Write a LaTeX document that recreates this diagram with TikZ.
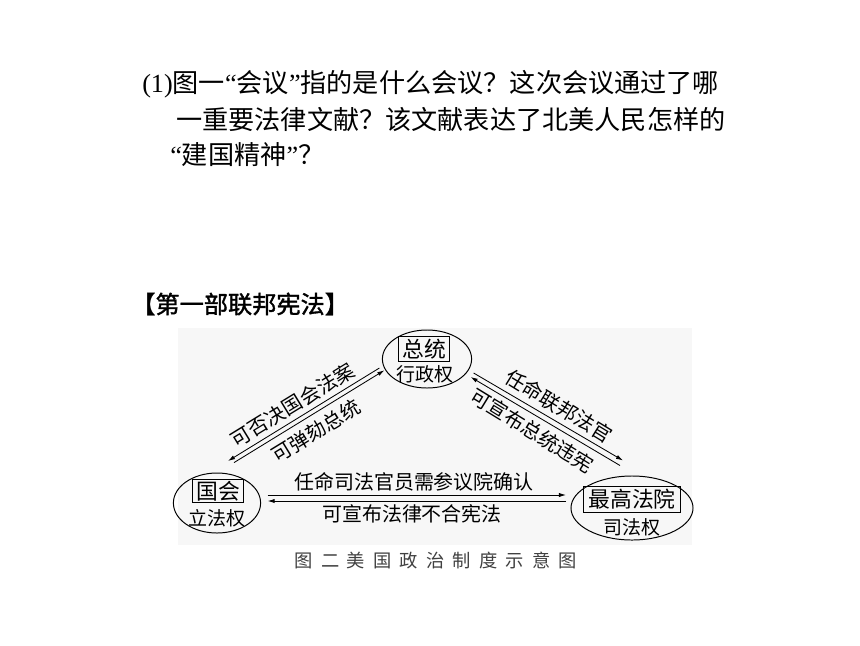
\documentclass[tikz,border=0pt]{standalone}
\usepackage{fontspec}
\setmainfont{Noto Sans CJK SC}
\newfontfamily\latinfont{Liberation Serif}
\newfontfamily\headfont[FakeBold=1.5]{Noto Sans CJK SC}
\newfontfamily\capfont[LetterSpace=45]{Noto Sans CJK SC}
\usetikzlibrary{shapes.geometric,arrows.meta}
\newcommand\qopen{{\latinfont “}}
\newcommand\qclose{{\latinfont ”}}
\tikzset{qline/.style={anchor=west,inner sep=0pt,font=\fontsize{18.6}{20}\selectfont}}
\tikzset{power/.style={draw,ellipse,line width=0.7pt,inner sep=0pt}}
\tikzset{office/.style={draw,rectangle,line width=0.7pt,inner sep=0pt,font=\fontsize{15.5}{16}\selectfont}}
\tikzset{duty/.style={inner sep=0pt,font=\fontsize{13.5}{14}\selectfont}}
\tikzset{lbl/.style={inner sep=0pt,font=\fontsize{14.2}{15}\selectfont}}
\tikzset{chk/.style={line width=0.6pt,-{Latex[length=5pt,width=3pt]}}}

\begin{document}
\begin{tikzpicture}[x=0.025cm,y=-0.025cm]
    \fill[white] (0,0) rectangle (860,645);
    \useasboundingbox (0,0) rectangle (860,645);
    \fill[black!3] (178,328) rectangle (692,545);

    % question
    \node[qline] (q1) at (142,84) {{\latinfont(1)}图一\qopen 会议\qclose 指的是什么会议？这次会议通过了哪};
    \node[qline] (q2) at (176,120) {一重要法律文献？该文献表达了北美人民怎样的};
    \node[qline] (q3) at (170,155) {\qopen 建国精神\qclose？};

    \node[anchor=west,inner sep=0pt,font=\headfont\fontsize{17.2}{18}\selectfont] (head) at (131,304) {【第一部联邦宪法】};

    % three powers
    \node[power,minimum width=2.23cm,minimum height=1.45cm] (pres) at (427,359) {};
    \node[office,minimum width=1.275cm,minimum height=0.625cm] (presbox) at (424,349) {总统};
    \node[duty] (presduty) at (425,374) {行政权};

    \node[power,minimum width=2.18cm,minimum height=1.5cm] (cong) at (217,503) {};
    \node[office,minimum width=1.275cm,minimum height=0.575cm] (congbox) at (218,491) {国会};
    \node[duty] (congduty) at (217,518) {立法权};

    \node[power,minimum width=3.05cm,minimum height=1.6cm] (court) at (632,508) {};
    \node[office,minimum width=2.425cm,minimum height=0.65cm] (courtbox) at (632,499) {最高法院};
    \node[duty] (courtduty) at (632,527) {司法权};

    % checks
    \draw[chk] ([shift={(-2.5,9)}]pres.west) -- ([shift={(11,-11.5)}]cong.north);
    \draw[chk] ([shift={(17,-9.9)}]cong.north) -- ([shift={(2.5,11.3)}]pres.west);
    \draw[chk] ([shift={(1.5,14)}]pres.east) -- ([shift={(-9,-15)}]court.north);
    \draw[chk] ([shift={(-12,-10)}]court.north) -- ([shift={(-1.5,18)}]pres.east);
    \draw[chk] ([shift={(6.5,-8)}]cong.east) -- ([shift={(-4.5,-13)}]court.west);
    \draw[chk] ([shift={(-4.5,-7)}]court.west) -- ([shift={(6.5,-2)}]cong.east);

    \node[lbl,rotate=31.5] (vetol) at (292.5,405) {可否决国会法案};
    \node[lbl,rotate=31.5] (impl) at (316,431) {可弹劾总统};
    \node[lbl,rotate=-31.5] (apptl) at (559,406) {任命联邦法官};
    \node[lbl,rotate=-31.5] (unconl) at (532,430.5) {可宣布总统违宪};
    \node[lbl] (confl) at (414,482) {任命司法官员需参议院确认};
    \node[lbl] (lawl) at (412,514) {可宣布法律不合宪法};

    \node[inner sep=0pt,text=black!75,font=\capfont\fontsize{13}{14}\selectfont] (cap) at (436,560) {图二\hspace{0.4em}美国政治制度示意图};
\end{tikzpicture}
\end{document}
